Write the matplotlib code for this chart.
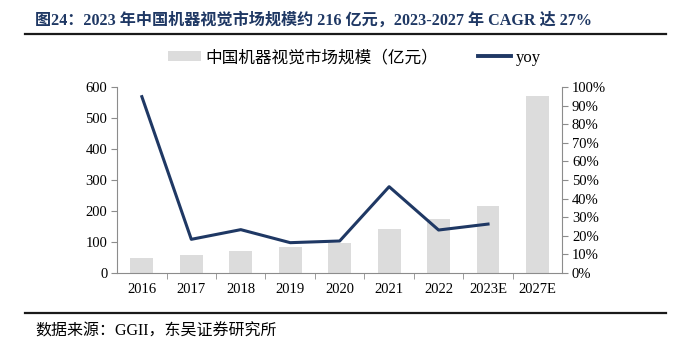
import matplotlib
matplotlib.use("Agg")
import matplotlib.pyplot as plt
from matplotlib.lines import Line2D
from matplotlib.patches import Patch
from matplotlib.ticker import PercentFormatter, FixedLocator
import numpy as np

FONTS = ["Liberation Serif", "Noto Sans CJK SC"]
plt.rcParams["font.family"] = FONTS

NAVY = "#1F3864"
BAR_GRAY = "#DCDCDC"
SPINE_GRAY = "#8C8C8C"

years = ["2016", "2017", "2018", "2019", "2020", "2021", "2022", "2023E", "2027E"]
market_size = [48, 58, 71, 83, 96, 141, 174, 216, 571]  # 亿元
yoy_years = years[:8]
yoy = [0.948, 0.181, 0.233, 0.163, 0.172, 0.464, 0.231, 0.263]

title = "图24：2023 年中国机器视觉市场规模约 216 亿元，2023-2027 年 CAGR 达 27%"
bar_label = "中国机器视觉市场规模（亿元）"
line_label = "yoy"
source = "数据来源：GGII，东吴证券研究所"

fig = plt.figure(figsize=(6.89, 3.47), dpi=100)
ax = fig.add_axes([0.170, 0.2133, 0.646, 0.536])
ax2 = ax.twinx()

x = np.arange(len(years))
ax.bar(x, market_size, width=0.46, color=BAR_GRAY, zorder=1)
ax2.plot(np.arange(len(yoy_years)), yoy, color=NAVY, lw=2.2, zorder=3)

ax.set_xlim(-0.5, len(years) - 0.5)
ax.set_ylim(0, 600)
ax.set_yticks(np.arange(0, 601, 100))
ax2.set_ylim(0, 1.0)
ax2.set_yticks(np.arange(0, 1.01, 0.1))
ax2.yaxis.set_major_formatter(PercentFormatter(1.0, decimals=0))

ax.set_xticks(x)
ax.set_xticklabels(years)
ax.xaxis.set_minor_locator(FixedLocator(np.arange(0.5, len(years) - 1, 1.0)))
ax.tick_params(axis="x", which="major", length=0, pad=7)
ax.tick_params(axis="x", which="minor", length=4, color=SPINE_GRAY, direction="out")
ax.tick_params(axis="y", length=4, color=SPINE_GRAY, pad=3)
ax2.tick_params(axis="y", length=4, color=SPINE_GRAY, pad=3)
for a in (ax, ax2):
    a.tick_params(labelsize=10.5, labelcolor="black")
    a.spines["top"].set_visible(False)
    for s in ("left", "right", "bottom"):
        a.spines[s].set_color(SPINE_GRAY)
ax.spines["right"].set_visible(False)
ax2.spines["left"].set_visible(False)
ax2.spines["bottom"].set_visible(False)

handles = [
    Patch(facecolor=BAR_GRAY, edgecolor="none", label=bar_label),
    Line2D([], [], color=NAVY, lw=2.8, label=line_label),
]
fig.legend(handles=handles, loc="center", bbox_to_anchor=(0.514, 0.833), ncol=2,
           frameon=False, fontsize=12, handlelength=2.0, handleheight=0.6,
           columnspacing=2.4, handletextpad=0.25, borderaxespad=0, borderpad=0)

fig.text(0.051, 0.942, title, fontsize=11.6, fontweight="bold", color=NAVY,
         va="center", ha="left")
fig.add_artist(Line2D([0.036, 0.967], [0.902, 0.902], color="#1a1a1a", lw=1.6))
fig.add_artist(Line2D([0.036, 0.967], [0.099, 0.099], color="#1a1a1a", lw=1.6))
fig.text(0.051, 0.046, source, fontsize=11.5, color="black", va="center", ha="left")

fig.savefig("out.png", dpi=100)
